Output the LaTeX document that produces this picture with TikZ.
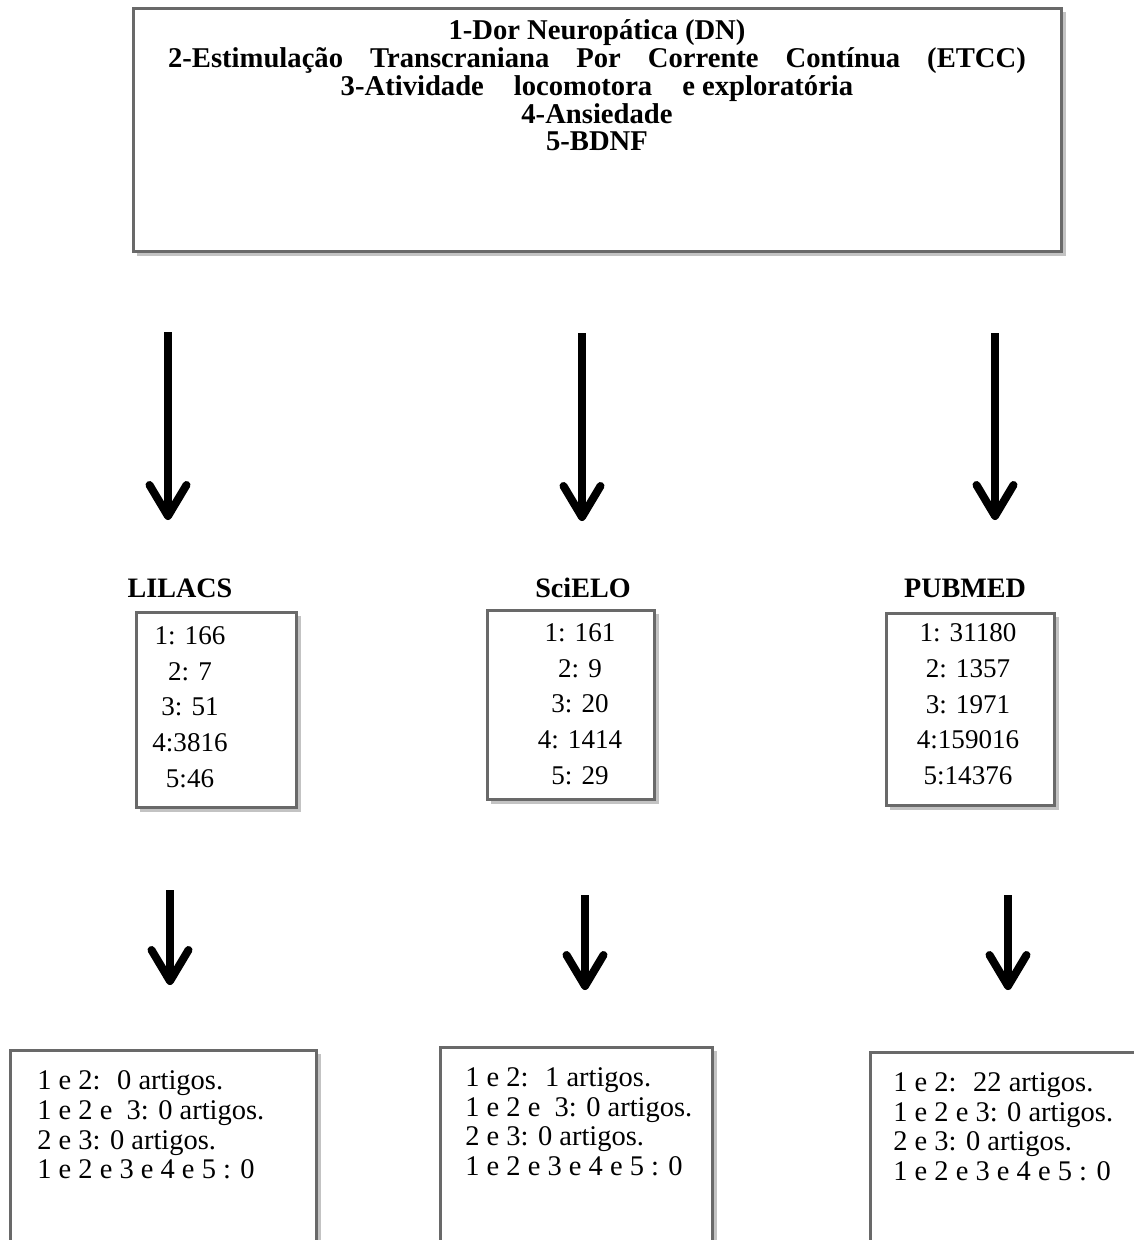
\documentclass[tikz,border=0pt]{standalone}
\usepackage{fontspec}
\setmainfont{Liberation Serif}
\usetikzlibrary{arrows.meta,shadows}

\definecolor{borda}{RGB}{105,105,105}
\definecolor{sombracor}{RGB}{195,195,195}
\newcommand{\esp}{\hspace{0.54cm}}
\newcommand{\espl}{\hspace{0.6cm}}

\begin{document}
\begin{tikzpicture}[x=0.02cm,y=-0.02cm,
    caixa/.style={draw=borda,line width=0.06cm,fill=white,
      drop shadow={shadow xshift=0.08cm,shadow yshift=-0.08cm,fill=sombracor,opacity=1}},
    seta/.style={line width=0.16cm,-{Straight Barb[length=0.62cm,width=0.74cm,round]}},
    titulo/.style={font=\fontsize{16}{16}\selectfont\bfseries},
    lista/.style={align=center,anchor=north,inner sep=0pt,font=\fontsize{15.4}{20.4}\selectfont},
    artigos/.style={align=left,anchor=north west,inner sep=0pt,font=\fontsize{16.2}{17}\selectfont}]

  \useasboundingbox (0,0) rectangle (1133,1240);

    \draw (597.5,130) node[caixa,minimum width=18.58cm,minimum height=4.88cm] (topo) {};
    \draw (597,19) node[anchor=north,align=center,inner sep=0pt,font=\fontsize{16.3}{15.9}\selectfont\bfseries] (temas)
      {1-Dor Neuropática (DN)\\
       2-Estimulação\esp Transcraniana\esp Por\esp Corrente\esp Contínua\esp (ETCC)\\
       3-Atividade\espl locomotora\espl e exploratória\\
       4-Ansiedade\\
       5-BDNF};

    \draw (180,588) node[titulo] (nome1) {LILACS};
    \draw (583,588) node[titulo] (nome2) {SciELO};
    \draw (965,588) node[titulo] (nome3) {PUBMED};

    \draw (216.5,710) node[caixa,minimum width=3.22cm,minimum height=3.92cm] (base1) {};
    \draw (571,705) node[caixa,minimum width=3.36cm,minimum height=3.8cm] (base2) {};
    \draw (970.5,709.5) node[caixa,minimum width=3.38cm,minimum height=3.86cm] (base3) {};

    \draw (190,626) node[lista] (total1) {1: 166\\2: 7\\3: 51\\4:3816\\5:46};
    \draw (580,623) node[lista] (total2) {1: 161\\2: 9\\3: 20\\4: 1414\\5: 29};
    \draw (968,623) node[lista] (total3) {1: 31180\\2: 1357\\3: 1971\\4:159016\\5:14376};

    \draw (163.5,1155) node[caixa,minimum width=6.14cm,minimum height=4.2cm] (fim1) {};
    \draw (576.5,1150) node[caixa,minimum width=5.46cm,minimum height=4.12cm] (fim2) {};
    \draw (1007.5,1155) node[caixa,minimum width=5.5cm,minimum height=4.12cm] (fim3) {};

    \draw (37,1070) node[artigos] (cruzado1)
      {1 e 2:~ 0 artigos.\\1 e 2 e~ 3: 0 artigos.\\2 e 3: 0 artigos.\\1 e 2 e 3 e 4 e 5 : 0};
    \draw (465,1067) node[artigos] (cruzado2)
      {1 e 2:~ 1 artigos.\\1 e 2 e~ 3: 0 artigos.\\2 e 3: 0 artigos.\\1 e 2 e 3 e 4 e 5 : 0};
    \draw (893,1072) node[artigos] (cruzado3)
      {1 e 2:~ 22 artigos.\\1 e 2 e 3: 0 artigos.\\2 e 3: 0 artigos.\\1 e 2 e 3 e 4 e 5 : 0};

    % pontas das setas
    \coordinate (s1a) at (168,332);  \coordinate (s1b) at (168,520);
    \coordinate (s2a) at (582,333);  \coordinate (s2b) at (582,521);
    \coordinate (s3a) at (995,333);  \coordinate (s3b) at (995,520);
    \coordinate (t1a) at (170,890);  \coordinate (t1b) at (170,985);
    \coordinate (t2a) at (585,895);  \coordinate (t2b) at (585,990);
    \coordinate (t3a) at (1008,895); \coordinate (t3b) at (1008,990);

     \draw[seta] (s1a) -- (s1b);
     \draw[seta] (s2a) -- (s2b);
     \draw[seta] (s3a) -- (s3b);
     \draw[seta] (t1a) -- (t1b);
     \draw[seta] (t2a) -- (t2b);
     \draw[seta] (t3a) -- (t3b);

\end{tikzpicture}
\end{document}
